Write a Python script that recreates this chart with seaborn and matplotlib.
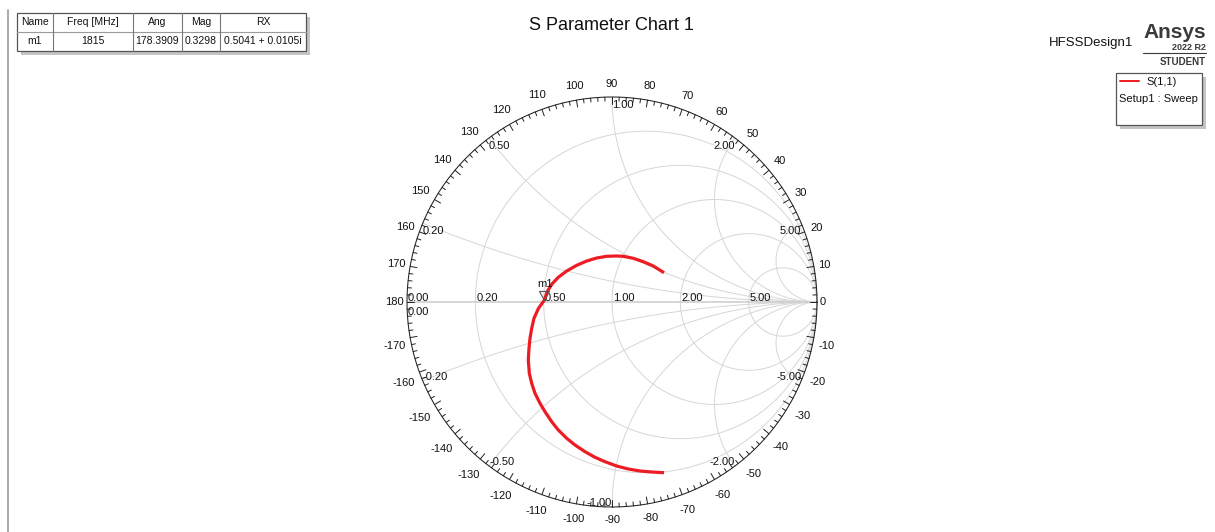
import numpy as np
import pandas as pd
import matplotlib
matplotlib.use("Agg")
import matplotlib.pyplot as plt
import seaborn as sns
from matplotlib.patches import Rectangle

s11_re = [0.2537, 0.2015, 0.1527, 0.1039, 0.0551, 0.0229, -0.0259, -0.0746,
          -0.1234, -0.1722, -0.2210, -0.2620, -0.2941, -0.3171, -0.3297,
          -0.3585, -0.3805, -0.3917, -0.4000, -0.4049, -0.4083, -0.4034,
          -0.3917, -0.3756, -0.3512, -0.3268, -0.2941, -0.2620, -0.2210,
          -0.1805, -0.1317, -0.0829, -0.0341, 0.0229, 0.0795, 0.1366,
          0.1937, 0.2537]
s11_im = [0.1429, 0.1756, 0.1966, 0.2132, 0.2229, 0.2244, 0.2229, 0.2146,
          0.2000, 0.1790, 0.1512, 0.1205, 0.0863, 0.0488, 0.0093, -0.0307,
          -0.0795, -0.1283, -0.1771, -0.2259, -0.2829, -0.3478, -0.3966,
          -0.4454, -0.4941, -0.5351, -0.5839, -0.6244, -0.6649, -0.6976,
          -0.7302, -0.7576, -0.7790, -0.8000, -0.8146, -0.8244, -0.8293,
          -0.8327]

# marker table
mk_name = "m1"
mk_freq = 1815
mk_ang = 178.3909
mk_mag = 0.3298
mk_rx = "0.5041 + 0.0105i"

# smith grid values
r_grid = [0.2, 0.5, 1.0, 2.0, 5.0]
x_grid = [0.2, 0.5, 1.0, 2.0, 5.0]
ang_labels = list(range(-170, 181, 10))

title = "S Parameter Chart 1"
design = "HFSSDesign1"
trace_name = "S(1,1)"
sweep_name = "Setup1 : Sweep"

sns.set_theme(style="white")
plt.rcParams["font.family"] = ["Liberation Sans", "DejaVu Sans"]

W, H = 1215, 532
CX, CY, RPX = 612, 302, 205
px = 1.0 / RPX
RED = "#ed1c24"

fig = plt.figure(figsize=(W / 100, H / 100), dpi=100)
fig.patch.set_facecolor("white")
ax = fig.add_axes([0, 0, 1, 1])

# ---- grid ----
grid_kw = dict(color="#d6d6d6", lw=0.7, zorder=1)
t = np.linspace(0, 2 * np.pi, 500)
for r in r_grid:
    c, rad = r / (1 + r), 1 / (1 + r)
    ax.plot(c + rad * np.cos(t), rad * np.sin(t), **grid_kw)
rr = np.concatenate([[0], np.logspace(-3, 4, 800)])
for x in x_grid:
    for s in (1, -1):
        z = rr + 1j * s * x
        g = (z - 1) / (z + 1)
        ax.plot(g.real, g.imag, **grid_kw)
ax.plot([-1, 1], [0, 0], color="#cfcfcf", lw=1.2, zorder=1)

# ---- outer ring + angle ticks ----
ax.plot(np.cos(t), np.sin(t), color="#222222", lw=0.75, zorder=3)
for a in range(-178, 181, 2):
    L = 7 if a % 10 == 0 else 4
    ar = np.radians(a)
    ax.plot([np.cos(ar), (1 - L * px) * np.cos(ar)],
            [np.sin(ar), (1 - L * px) * np.sin(ar)],
            color="#222222", lw=0.7, zorder=3)

for a in ang_labels:
    lab = str(a)
    w = sum(3.7 if ch == "-" else 6.2 for ch in lab)
    ar = np.radians(a)
    rad = RPX + 3 + w / 2 * abs(np.cos(ar)) + 10 * abs(np.sin(ar))
    gx = rad * np.cos(ar) * px
    gy = rad * np.sin(ar) * px
    if a < 0:
        gy -= 6 * np.cos(ar) ** 2 * px
    ax.text(gx, gy, lab, fontsize=8, ha="center", va="center", color="#111111")

# ---- resistance labels ----
for r in [0.0] + r_grid:
    xl = (r - 1) / (r + 1)
    ax.text(xl + 1 * px, 1 * px, f"{r:.2f}", fontsize=8, ha="left",
            va="baseline", color="#111111", zorder=4)
ax.text(-1 + 1 * px, -13 * px, "0.00", fontsize=8, ha="left",
        va="baseline", color="#111111", zorder=4)

# ---- reactance labels ----
for x in x_grid:
    for s in (1, -1):
        z = 1j * s * x
        g = (z - 1) / (z + 1)
        if s > 0:
            ha = "left" if g.real <= 1e-3 else "right"
            gy = g.imag - 8 * px
        else:
            ha = "left" if g.real < -1e-3 else "right"
            gy = g.imag + 4 * px
        ax.text(g.real, gy, f"{s * x:.2f}", fontsize=8, ha=ha, va="center",
                color="#111111", zorder=4)

# ---- trace ----
df = pd.DataFrame({"re": s11_re, "im": s11_im})
sns.lineplot(data=df, x="re", y="im", sort=False, estimator=None, ax=ax,
             color=RED, lw=2.3, zorder=5, solid_joinstyle="round",
             solid_capstyle="butt")
if ax.get_legend():
    ax.get_legend().remove()

# ---- marker m1 ----
gm = mk_mag * np.exp(1j * np.radians(mk_ang))
tri = [(-0.55, 1.0), (0.55, 1.0), (0.0, 0.0), (-0.55, 1.0)]
ax.plot([gm.real], [gm.imag], marker=tri, ms=13, mfc="none", mec="#555555",
        mew=0.8, zorder=6)
ax.annotate(mk_name, (gm.real, gm.imag), xytext=(0.5, 11.5),
            textcoords="offset points", fontsize=8, ha="center", va="center",
            color="#111111", zorder=6)

ax.set_xlim(-CX / RPX, (W - CX) / RPX)
ax.set_ylim(-(H - CY) / RPX, CY / RPX)
ax.axis("off")

# ---- decorations in pixel coordinates ----
deco = fig.add_axes([0, 0, 1, 1])
deco.set_xlim(0, W)
deco.set_ylim(H, 0)
deco.axis("off")
deco.patch.set_alpha(0)

deco.plot([8, 8], [10, H], color="#9a9a9a", lw=1.2)

# marker table
cols = ["Name", "Freq [MHz]", "Ang", "Mag", "RX"]
vals = [mk_name, str(mk_freq), f"{mk_ang:.4f}", f"{mk_mag:.4f}", mk_rx]
edges = [17, 53, 133, 182, 220, 306]
top, mid, bot = 12.5, 31.7, 50.7
deco.add_patch(Rectangle((edges[0] + 4, top + 4), edges[-1] - edges[0], bot - top,
                         fc="#c4c4c4", ec="none", zorder=1))
deco.add_patch(Rectangle((edges[0], top), edges[-1] - edges[0], bot - top,
                         fc="white", ec="#555555", lw=0.9, zorder=2))
deco.plot([edges[0], edges[-1]], [mid, mid], color="#9a9a9a", lw=0.8, zorder=3)
for e in edges[1:-1]:
    deco.plot([e, e], [top, bot], color="#777777", lw=0.8, zorder=3)
for i in range(len(cols)):
    xc = (edges[i] + edges[i + 1]) / 2
    deco.text(xc, (top + mid) / 2, cols[i], fontsize=7.5, ha="center",
              va="center", color="#111111", zorder=4)
    deco.text(xc, (mid + bot) / 2, vals[i], fontsize=7.5, ha="center",
              va="center", color="#111111", zorder=4)

# title and design name
deco.text(611, 25, title, fontsize=13, ha="center", va="center", color="#111111")
deco.text(1091, 43, design, fontsize=9.5, ha="center", va="center", color="#111111")

# ansys badge
deco.text(1206, 32, "Ansys", fontsize=15, fontweight="bold", ha="right",
          va="center", color="#3a3a3a")
deco.text(1206, 47.5, "2022 R2", fontsize=6.5, fontweight="bold", ha="right",
          va="center", color="#3a3a3a")
deco.plot([1143, 1206], [53, 53], color="#3a3a3a", lw=0.8)
deco.text(1206, 62, "STUDENT", fontsize=7, fontweight="bold", ha="right",
          va="center", color="#3a3a3a")

# legend box
lx0, ly0, lx1, ly1 = 1116, 73, 1202, 125
deco.add_patch(Rectangle((lx0 + 4, ly0 + 4), lx1 - lx0, ly1 - ly0,
                         fc="#c4c4c4", ec="none", zorder=1))
deco.add_patch(Rectangle((lx0, ly0), lx1 - lx0, ly1 - ly0,
                         fc="white", ec="#555555", lw=0.9, zorder=2))
deco.plot([1120, 1139], [81, 81], color=RED, lw=1.4, zorder=3)
deco.text(1162, 82, trace_name, fontsize=8, ha="center", va="center",
          color="#111111", zorder=3)
deco.text(1158.5, 99.5, sweep_name, fontsize=8, ha="center", va="center",
          color="#111111", zorder=3)

fig.savefig("out.png", dpi=100)
